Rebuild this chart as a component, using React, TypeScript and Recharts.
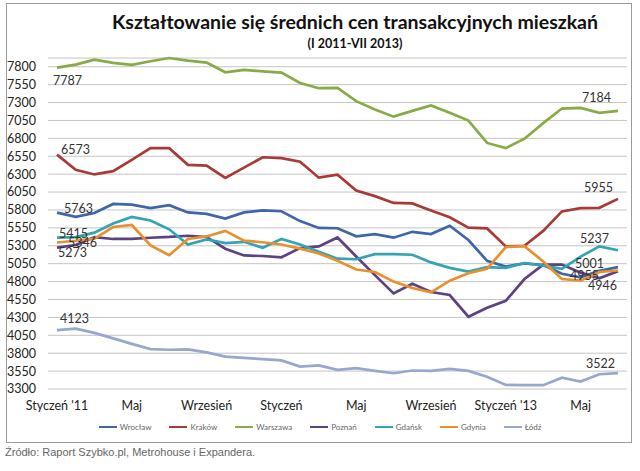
import React from 'react';
import { LineChart, Line, XAxis, YAxis, CartesianGrid, Legend } from 'recharts';

const months = [
  "Styczeń '11", 'Luty', 'Marzec', 'Kwiecień', 'Maj', 'Czerwiec', 'Lipiec', 'Sierpień',
  'Wrzesień', 'Październik', 'Listopad', 'Grudzień', 'Styczeń', 'Luty', 'Marzec', 'Kwiecień',
  'Maj', 'Czerwiec', 'Lipiec', 'Sierpień', 'Wrzesień', 'Październik', 'Listopad', 'Grudzień',
  "Styczeń '13", 'Luty', 'Marzec', 'Kwiecień', 'Maj', 'Czerwiec', 'Lipiec',
];

const wroclaw = [5763, 5703, 5757, 5884, 5875, 5826, 5866, 5766, 5745, 5680, 5766, 5793, 5782, 5644, 5549, 5545, 5432, 5463, 5413, 5495, 5463, 5580, 5380, 5090, 5010, 5055, 5030, 4910, 4860, 4950, 5001];
const krakow = [6573, 6360, 6296, 6342, 6500, 6663, 6663, 6430, 6420, 6247, 6391, 6536, 6523, 6473, 6251, 6292, 6070, 5993, 5898, 5892, 5793, 5698, 5554, 5542, 5291, 5300, 5508, 5780, 5826, 5830, 5955];
const warszawa = [7787, 7830, 7900, 7855, 7827, 7877, 7922, 7886, 7857, 7722, 7755, 7736, 7718, 7573, 7500, 7505, 7320, 7202, 7103, 7184, 7260, 7157, 7048, 6736, 6663, 6795, 7012, 7216, 7225, 7157, 7184];
const poznan = [5273, 5310, 5420, 5395, 5395, 5412, 5423, 5440, 5423, 5259, 5165, 5157, 5139, 5269, 5291, 5416, 5150, 4890, 4635, 4770, 4655, 4612, 4309, 4434, 4532, 4836, 5037, 5037, 4925, 4845, 4946];
const gdansk = [5415, 5420, 5483, 5612, 5703, 5653, 5530, 5318, 5390, 5336, 5355, 5273, 5394, 5318, 5215, 5120, 5112, 5184, 5184, 5175, 5068, 4992, 4940, 5001, 4992, 5059, 5023, 4979, 5148, 5291, 5237];
const gdynia = [5346, 5370, 5400, 5562, 5590, 5305, 5168, 5395, 5430, 5508, 5371, 5349, 5318, 5260, 5193, 5090, 4968, 4934, 4800, 4711, 4650, 4813, 4916, 4979, 5282, 5295, 5081, 4836, 4813, 4934, 4955];
const lodz = [4123, 4143, 4084, 4007, 3930, 3857, 3848, 3853, 3812, 3753, 3735, 3717, 3699, 3613, 3630, 3567, 3590, 3553, 3520, 3558, 3553, 3580, 3553, 3472, 3357, 3353, 3353, 3457, 3403, 3506, 3522];

const yTicks = [3300, 3550, 3800, 4050, 4300, 4550, 4800, 5050, 5300, 5550, 5800, 6050, 6300, 6550, 6800, 7050, 7300, 7550, 7800];

const data = months.map((m, i) => ({
  month: m,
  wroclaw: wroclaw[i],
  krakow: krakow[i],
  warszawa: warszawa[i],
  poznan: poznan[i],
  gdansk: gdansk[i],
  gdynia: gdynia[i],
  lodz: lodz[i],
}));

// label offsets for first / last value of each series
const series = [
  { key: 'wroclaw', name: 'Wrocław', color: '#3F67A8', first: [7, -4], last: [-14, -4] },
  { key: 'krakow', name: 'Kraków', color: '#A83B37', first: [4, -5], last: [-5, -11] },
  { key: 'warszawa', name: 'Warszawa', color: '#88AA47', first: [-4, 13], last: [-7, -13] },
  { key: 'poznan', name: 'Poznań', color: '#5C4282', first: [1, 5], last: [-1, 14] },
  { key: 'gdansk', name: 'Gdańsk', color: '#33A3B5', first: [2, -4.5], last: [-9, -12] },
  { key: 'gdynia', name: 'Gdynia', color: '#E8902F', first: [11, 0], last: [-19, 5.5] },
  { key: 'lodz', name: 'Łódź', color: '#97A7CE', first: [3, -12], last: [-3, -10] },
];

const FONT = 'Lato, "Open Sans", sans-serif';

const makeLabel = (first: number[], last: number[]) => (props: any) => {
  const { x, y, index, value } = props;
  if (index !== 0 && index !== months.length - 1) return null;
  const off = index === 0 ? first : last;
  return (
    <text
      x={x + off[0]}
      y={y + off[1]}
      textAnchor={index === 0 ? 'start' : 'end'}
      dominantBaseline="central"
      fontSize={12.5}
      fontFamily={FONT}
      fill="#333"
    >
      {value}
    </text>
  );
};

const renderLegend = () => (
  <div style={{ display: 'flex', justifyContent: 'center', gap: 18, fontFamily: FONT, fontSize: 8, color: '#666' }}>
    {series.map((s) => (
      <div key={s.key} style={{ display: 'flex', alignItems: 'center' }}>
        <span style={{ display: 'inline-block', width: 18, height: 2, background: s.color, marginRight: 3 }} />
        {s.name}
      </div>
    ))}
  </div>
);

export default function App() {
  return (
    <div style={{ position: 'absolute', left: 0, top: 0, width: 640, height: 471, background: '#fff', overflow: 'hidden' }}>
      <div style={{ position: 'absolute', left: 6, top: 3, width: 624, height: 438, border: '1px solid #9a9a9a' }} />
      <div style={{ position: 'absolute', left: 55, width: 600, top: 8, textAlign: 'center', fontFamily: FONT, fontWeight: 700, fontSize: 19.5, color: '#111', lineHeight: '28px' }}>
        Kształtowanie się średnich cen transakcyjnych mieszkań
      </div>
      <div style={{ position: 'absolute', left: 55, width: 600, top: 36, textAlign: 'center', fontFamily: FONT, fontWeight: 700, fontSize: 12.5, color: '#111', lineHeight: '16px' }}>
        (I 2011-VII 2013)
      </div>
      <div style={{ position: 'absolute', left: 0, top: 0 }}>
        <LineChart width={640} height={471} data={data} margin={{ top: 58, right: 13, left: 0, bottom: 52 }}>
          <CartesianGrid vertical={false} stroke="#c4c4c4" strokeWidth={1} />
          <XAxis
            dataKey="month"
            interval={3}
            padding={{ left: 9, right: 9 }}
            axisLine={false}
            tickLine={false}
            tickSize={0}
            tickMargin={12}
            height={30}
            tick={{ fontSize: 12.5, fontFamily: FONT, fill: '#222' }}
          />
          <YAxis
            domain={[3300, 7800]}
            ticks={yTicks}
            interval={0}
            width={48}
            axisLine={false}
            tickLine={false}
            tickSize={0}
            tickMargin={12}
            tick={{ fontSize: 12.5, fontFamily: FONT, fill: '#222' }}
          />
          <Legend verticalAlign="middle" align="center" layout="horizontal" content={renderLegend} wrapperStyle={{ top: 422, left: 0, width: 640 }} />
          {series.map((s) => (
            <Line
              key={s.key}
              dataKey={s.key}
              name={s.name}
              type="linear"
              stroke={s.color}
              strokeWidth={2.7}
              dot={false}
              isAnimationActive={false}
              label={makeLabel(s.first, s.last)}
            />
          ))}
        </LineChart>
      </div>
      <div style={{ position: 'absolute', left: 5, top: 446, fontFamily: '"Liberation Sans Narrow", "Liberation Sans", sans-serif', fontSize: 11, color: '#666' }}>
        Źródło: Raport Szybko.pl, Metrohouse i Expandera.
      </div>
    </div>
  );
}
